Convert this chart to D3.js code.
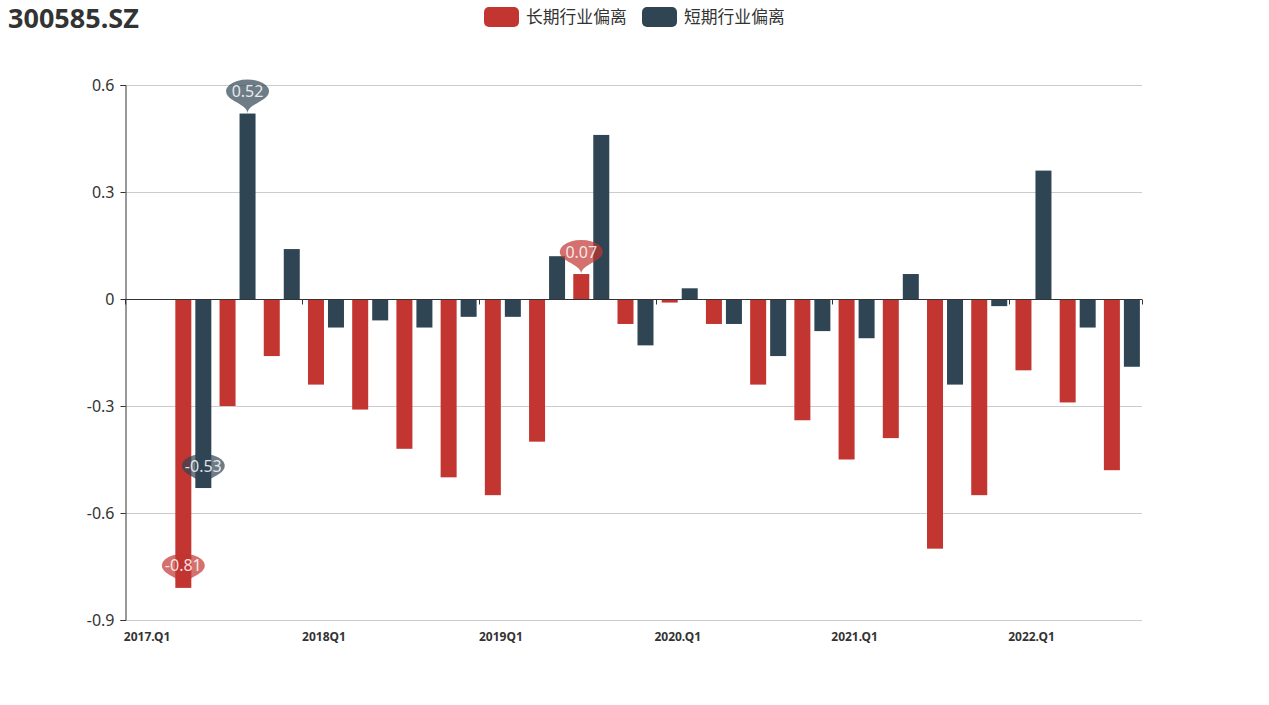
<!DOCTYPE html>
<html>
<head>
<meta charset="utf-8">
<script src="https://cdn.jsdelivr.net/npm/d3@7/dist/d3.min.js"></script>
<style>
html,body{margin:0;padding:0;background:#fff;}
svg{display:block;font-family:"Noto Sans","Noto Sans CJK SC",sans-serif;}
</style>
</head>
<body>
<svg id="chart" width="1269" height="705"></svg>
<script>
const title = "300585.SZ";
const categories = [
  "2017.Q1","2017.Q2","2017.Q3","2017.Q4",
  "2018Q1","2018Q2","2018Q3","2018Q4",
  "2019Q1","2019Q2","2019Q3","2019Q4",
  "2020.Q1","2020.Q2","2020.Q3","2020.Q4",
  "2021.Q1","2021.Q2","2021.Q3","2021.Q4",
  "2022.Q1","2022.Q2","2022.Q3"
];
const seriesNames = ["长期行业偏离", "短期行业偏离"];
const longDev = [null,-0.81,-0.30,-0.16,-0.24,-0.31,-0.42,-0.50,-0.55,-0.40,0.07,-0.07,-0.01,-0.07,-0.24,-0.34,-0.45,-0.39,-0.70,-0.55,-0.20,-0.29,-0.48];
const shortDev = [null,-0.53,0.52,0.14,-0.08,-0.06,-0.08,-0.05,-0.05,0.12,0.46,-0.13,0.03,-0.07,-0.16,-0.09,-0.11,0.07,-0.24,-0.02,0.36,-0.08,-0.19];
const yTicks = [-0.9,-0.6,-0.3,0,0.3,0.6];
const colors = ["#c23531", "#2f4554"];

const svg = d3.select("#chart");
const L = 125, R = 1142, T = 85, B = 620;

const x0 = d3.scaleBand().domain(categories).range([L, R]).padding(0);
const groupW = 36;
const groupShift = 2;
const x1 = d3.scaleBand().domain(seriesNames).range([0, groupW]).paddingInner(0.2).paddingOuter(0);
const y = d3.scaleLinear().domain([-0.9, 0.6]).range([B, T]);
const fmt = v => (v < 0 ? "-" : "") + Math.abs(v).toFixed(1);
const fmt2 = v => (v < 0 ? "-" : "") + Math.abs(v).toFixed(2);

// title
svg.append("text").attr("x", 8).attr("y", 28)
  .attr("font-size", 27).attr("font-weight", 700).attr("fill", "#333").text(title);

// legend
const legend = svg.append("g");
const legendX = [484, 642];
seriesNames.forEach((n, i) => {
  const g = legend.append("g").attr("transform", `translate(${legendX[i]},7)`);
  g.append("rect").attr("width", 35).attr("height", 20).attr("rx", 5).attr("fill", colors[i]);
  g.append("text").attr("x", 42).attr("y", 16).attr("font-size", 16.8)
    .attr("font-family", "'Noto Sans CJK SC',sans-serif").attr("fill", "#333").text(n);
});

// grid lines
svg.append("g").selectAll("line").data(yTicks.filter(d => d !== 0)).join("line")
  .attr("x1", L).attr("x2", R).attr("y1", d => Math.round(y(d)) + 0.5).attr("y2", d => Math.round(y(d)) + 0.5)
  .attr("stroke", "#ccc").attr("stroke-width", 1);

// y axis
const yAxis = d3.axisLeft(y).tickValues(yTicks).tickSize(5).tickPadding(6)
  .tickFormat(d => d === 0 ? "0" : fmt(d));
const yg = svg.append("g").attr("transform", `translate(${L + 0.5},0)`).call(yAxis);
yg.select(".domain").attr("stroke", "#333");
yg.selectAll(".tick line").attr("stroke", "#333");
yg.selectAll(".tick text").attr("font-size", 16).attr("fill", "#333")
  .attr("font-family", "'Noto Sans',sans-serif");

// bars
const seriesData = [longDev, shortDev];
const barX = (c, si) => x0(c) + (x0.bandwidth() - groupW) / 2 + groupShift + x1(seriesNames[si]);
const barsG = svg.append("g");
seriesData.forEach((vals, si) => {
  barsG.append("g").selectAll("rect")
    .data(vals.map((v, i) => ({ v, c: categories[i] })).filter(d => d.v !== null))
    .join("rect")
    .attr("x", d => barX(d.c, si))
    .attr("width", x1.bandwidth())
    .attr("y", d => Math.min(y(d.v), y(0)))
    .attr("height", d => Math.abs(y(d.v) - y(0)))
    .attr("fill", colors[si]);
});

// x axis line at zero with ticks on every 4th boundary
const zeroY = Math.round(y(0)) + 0.5;
svg.append("line").attr("x1", L).attr("x2", R).attr("y1", zeroY).attr("y2", zeroY)
  .attr("stroke", "#333").attr("stroke-width", 1);
const tickIdx = d3.range(0, categories.length, 4);
svg.append("g").selectAll("line").data(tickIdx.concat([categories.length])).join("line")
  .attr("x1", i => Math.round(L + i * x0.step()) + 0.5)
  .attr("x2", i => Math.round(L + i * x0.step()) + 0.5)
  .attr("y1", zeroY).attr("y2", zeroY + 5)
  .attr("stroke", "#333");

// x labels at bottom
svg.append("g").selectAll("text").data(tickIdx).join("text")
  .attr("x", i => x0(categories[i]) + x0.bandwidth() / 2)
  .attr("y", 641)
  .attr("text-anchor", "middle")
  .attr("font-size", 12).attr("font-weight", 700).attr("fill", "#333")
  .text(i => categories[i]);

// mark points (max / min per series)
function pinPath() {
  const w = 30, h = 50, r = w / 2;
  const dy = r * r / (h - r);
  const cy = -h + r + dy;
  const angle = Math.asin(dy / r);
  const dx = Math.cos(angle) * r;
  const tanX = Math.sin(angle), tanY = Math.cos(angle);
  const cpLen = r * 0.6, cpLen2 = r * 0.7;
  const p = d3.path();
  p.moveTo(-dx, cy + dy);
  p.arc(0, cy, r, Math.PI - angle, Math.PI * 2 + angle);
  p.bezierCurveTo(dx - tanX * cpLen, cy + dy + tanY * cpLen, 0, -cpLen2, 0, 0);
  p.bezierCurveTo(0, -cpLen2, -dx + tanX * cpLen, cy + dy + tanY * cpLen, -dx, cy + dy);
  p.closePath();
  return { d: p.toString(), cy };
}
const pin = pinPath();
const sx = 43 / 30, sy = 34 / 43.57;
const marks = svg.append("g");
seriesData.forEach((vals, si) => {
  const valid = vals.map((v, i) => ({ v, i })).filter(d => d.v !== null);
  const mx = valid.reduce((a, b) => b.v > a.v ? b : a);
  const mn = valid.reduce((a, b) => b.v < a.v ? b : a);
  [mx, mn].forEach(d => {
    const cx = barX(categories[d.i], si) + x1.bandwidth() / 2;
    const ty = y(d.v);
    const g = marks.append("g").attr("transform", `translate(${cx},${ty})`);
    g.append("path").attr("d", pin.d).attr("transform", `scale(${sx},${sy})`)
      .attr("fill", colors[si]).attr("opacity", 0.7);
    g.append("text").attr("x", 0).attr("y", pin.cy * sy).attr("dy", "0.36em")
      .attr("text-anchor", "middle").attr("font-size", 16).attr("fill", "#fff").attr("fill-opacity", 0.85)
      .attr("font-family", "'Noto Sans',sans-serif")
      .text(fmt2(d.v));
  });
});
</script>
</body>
</html>
